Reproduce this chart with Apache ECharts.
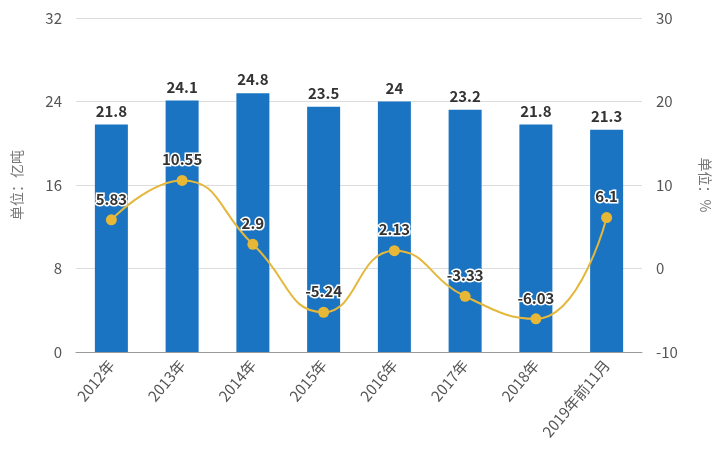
<!DOCTYPE html>
<html>
<head>
<meta charset="utf-8">
<title>产量及增速</title>
<style>
    html, body{
        margin: 0;
        padding: 0;
        background-color: #fff;
    }
    #chart{
        width: 720px;
        height: 469px;
    }
</style>
</head>
<body>
<div id="chart"></div>
<script src="https://cdn.jsdelivr.net/npm/echarts@6/dist/echarts.min.js"></script>
<script>
    // 数据
    var years = ['2012年', '2013年', '2014年', '2015年', '2016年', '2017年', '2018年', '2019年前11月'];
    var output = [21.8, 24.1, 24.8, 23.5, 24, 23.2, 21.8, 21.3];
    var growth = [5.83, 10.55, 2.9, -5.24, 2.13, -3.33, -6.03, 6.1];

    var font = '"Noto Sans CJK SC", "Liberation Sans", sans-serif';
    var myChart = echarts.init(document.getElementById('chart'));
    var option = {
        animation: false,
        textStyle: { fontFamily: font },
        grid: { left: 76, right: 78, top: 18, bottom: 117, containLabel: false, outerBoundsMode: 'none' },
        xAxis: {
            type: 'category',
            data: years,
            axisLine: { lineStyle: { color: '#999' } },
            axisTick: { alignWithLabel: true, length: 6, lineStyle: { color: '#999' } },
            axisLabel: { rotate: 50, color: '#555', fontSize: 15, margin: 10, interval: 0 }
        },
        yAxis: [{
            type: 'value',
            min: 0, max: 32, interval: 8,
            name: '单位：亿吨',
            nameLocation: 'middle',
            nameGap: 52,
            nameRotate: 90,
            nameTextStyle: { color: '#777', fontSize: 14 },
            axisLine: { show: false },
            axisTick: { show: false },
            axisLabel: { color: '#555', fontSize: 15, margin: 14 },
            splitLine: { lineStyle: { color: '#ddd' } }
        }, {
            type: 'value',
            min: -10, max: 30, interval: 10,
            name: '单位：%',
            nameLocation: 'middle',
            nameGap: 56,
            nameRotate: -90,
            nameTextStyle: { color: '#777', fontSize: 14 },
            axisLine: { show: false },
            axisTick: { show: false },
            axisLabel: { color: '#555', fontSize: 15, margin: 14 },
            splitLine: { show: false }
        }],
        series: [{
            type: 'bar',
            data: output,
            barWidth: 33,
            itemStyle: { color: '#1a74c2' },
            label: {
                show: true,
                position: 'top',
                color: '#333',
                fontSize: 15,
                fontWeight: 'bold',
                distance: 6
            }
        }, {
            type: 'line',
            yAxisIndex: 1,
            data: growth,
            smooth: true,
            symbol: 'circle',
            symbolSize: 11,
            lineStyle: { color: '#e4b83c', width: 2 },
            itemStyle: { color: '#e9b736' },
            label: {
                show: true,
                position: 'top',
                color: '#333',
                fontSize: 15,
                fontWeight: 'bold',
                textBorderColor: '#fff',
                textBorderWidth: 3,
                distance: 8
            }
        }]
    };
    myChart.setOption(option);
</script>
</body>
</html>
